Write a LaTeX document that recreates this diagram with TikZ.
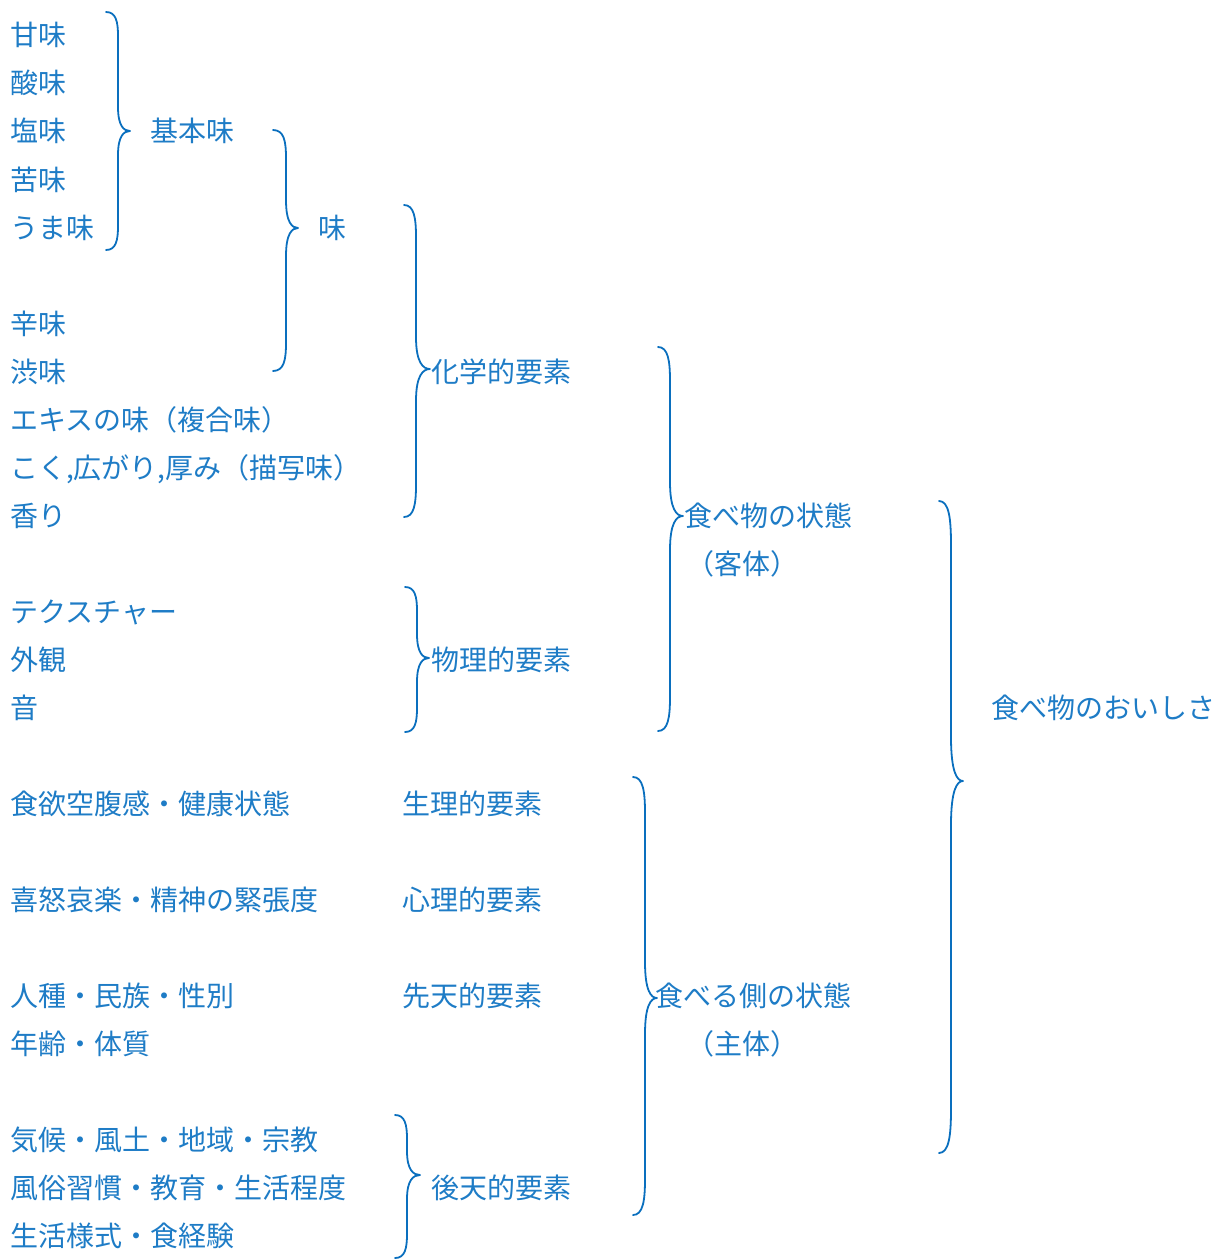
\documentclass[tikz,border=0pt]{standalone}
\usepackage{fontspec}
\setmainfont{Noto Sans CJK JP}
\definecolor{txtblue}{HTML}{1E7CC6}
\definecolor{brblue}{HTML}{0A6FBE}
\tikzset{
  lbl/.style={anchor=base west, inner sep=0pt, text=txtblue, font=\fontsize{28}{30}\selectfont},
  bracestyle/.style={draw=brblue, line width=1.8pt, line cap=round, line join=round}
}
% tip x, line x, point x, top y, point y, bottom y, r
\newcommand\mybrace[7]{%
  \draw[bracestyle] (#1,#4) .. controls (#2-2,#4) and (#2,#4+0.4*#7) .. (#2,#4+#7) -- (#2,#5-#7)
    .. controls (#2,#5-0.2*#7) and (#3-0.5*#3+0.5*#2,#5) .. (#3,#5)
    .. controls (#3-0.5*#3+0.5*#2,#5) and (#2,#5+0.2*#7) .. (#2,#5+#7)
    -- (#2,#6-#7) .. controls (#2,#6-0.4*#7) and (#2-2,#6) .. (#1,#6);}
\begin{document}
\begin{tikzpicture}[x=1pt,y=-1pt]
\useasboundingbox (0,0) rectangle (1221,1260);
% left column
\node[lbl] (a1) at (10,46) {甘味};
\node[lbl] (a2) at (10,94) {酸味};
\node[lbl] (a3) at (10,142) {塩味};
\node[lbl] (a4) at (10,190) {苦味};
\node[lbl] (a5) at (10,238) {うま味};
\node[lbl] (a6) at (10,334) {辛味};
\node[lbl] (a7) at (10,382) {渋味};
\node[lbl] (a8) at (10,430) {エキスの味（複合味）};
\node[lbl] (a9) at (10,478) {こく,広がり,厚み（描写味）};
\node[lbl] (a10) at (10,526) {香り};
\node[lbl] (a11) at (10,622) {テクスチャー};
\node[lbl] (a12) at (10,670) {外観};
\node[lbl] (a13) at (10,718) {音};
\node[lbl] (a14) at (10,814) {食欲空腹感・健康状態};
\node[lbl] (a15) at (10,910) {喜怒哀楽・精神の緊張度};
\node[lbl] (a16) at (10,1006) {人種・民族・性別};
\node[lbl] (a17) at (10,1054) {年齢・体質};
\node[lbl] (a18) at (10,1150) {気候・風土・地域・宗教};
\node[lbl] (a19) at (10,1198) {風俗習慣・教育・生活程度};
\node[lbl] (a20) at (10,1246) {生活様式・食経験};
% middle labels
\node[lbl] (b1) at (150,142) {基本味};
\node[lbl] (b2) at (318,238) {味};
\node[lbl] (b3) at (431,382) {化学的要素};
\node[lbl] (b4) at (431,670) {物理的要素};
\node[lbl] (b5) at (402,814) {生理的要素};
\node[lbl] (b6) at (402,910) {心理的要素};
\node[lbl] (b7) at (402,1006) {先天的要素};
\node[lbl] (b8) at (431,1198) {後天的要素};
\node[lbl] (c1) at (684,526) {食べ物の状態};
\node[lbl] (c2) at (686,574) {（客体）};
\node[lbl] (c3) at (655,1006) {食べる側の状態};
\node[lbl] (c4) at (686,1054) {（主体）};
\node[lbl] (d1) at (991,718) {食べ物のおいしさ};
% braces
\mybrace{106}{118}{130}{12}{131}{250}{24}
\mybrace{273}{286}{298}{130}{228}{371}{28}
\mybrace{404}{416}{430}{205}{369}{517}{32}
\mybrace{405}{417}{429}{587}{658}{732}{24}
\mybrace{658}{670}{683}{347}{516}{731}{34}
\mybrace{633}{645}{657}{777}{998}{1215}{36}
\mybrace{939}{951}{963}{501}{781}{1153}{44}
\mybrace{395}{407}{420}{1115}{1175}{1258}{24}
\end{tikzpicture}
\end{document}
